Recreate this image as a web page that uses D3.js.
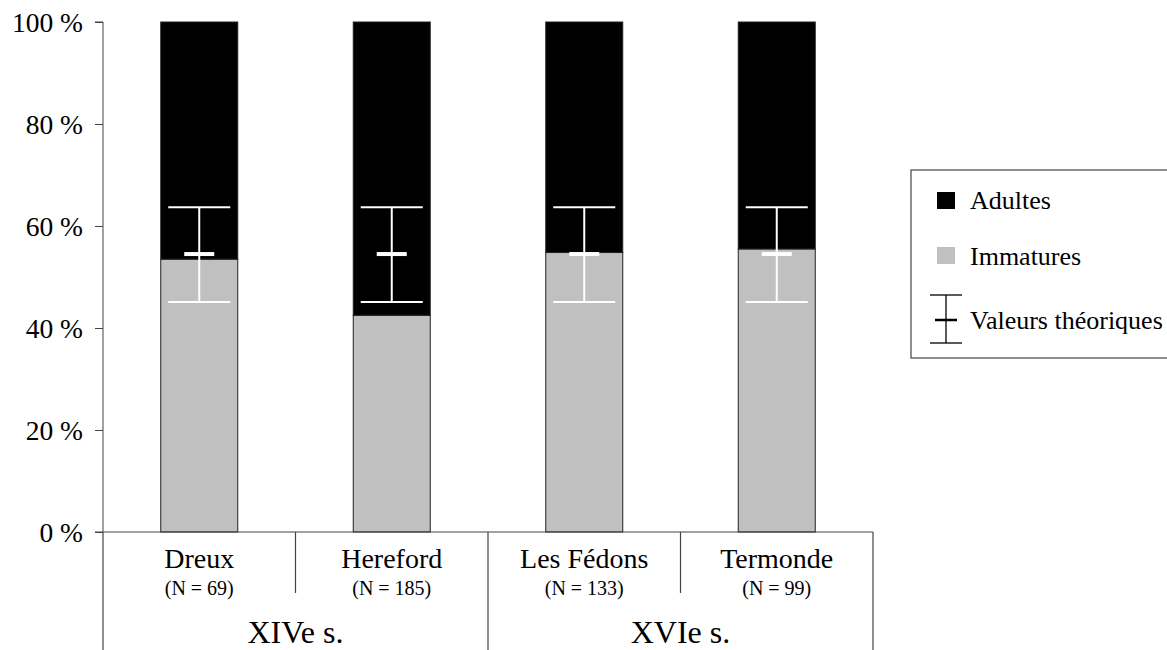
<!DOCTYPE html>
<html><head><meta charset="utf-8">
<script src="https://cdn.jsdelivr.net/npm/d3@7"></script>
<style>body{margin:0;background:#fff}svg{display:block}text{font-family:"Liberation Serif","Times New Roman",serif}</style>
</head><body><svg id="c" width="1167" height="650"></svg>
<script>
const sites = ["Dreux", "Hereford", "Les Fédons", "Termonde"];
const counts = ["(N = 69)", "(N = 185)", "(N = 133)", "(N = 99)"];
const periods = ["XIVe s.", "XIVe s.", "XVIe s.", "XVIe s."];
const periodNames = ["XIVe s.", "XVIe s."];
const immatures = [53.5, 42.5, 54.8, 55.5];
const theoLow = [45.1, 45.1, 45.1, 45.1];
const theoMid = [54.5, 54.5, 54.5, 54.5];
const theoHigh = [63.7, 63.7, 63.7, 63.7];
const yTicks = [0, 20, 40, 60, 80, 100];
const legendLabels = ["Adultes", "Immatures", "Valeurs théoriques"];

const FONT = "Liberation Serif";
const svg = d3.select("#c");
const x0 = 103, x1 = 873, yTop = 22, yBot = 532;
const x = d3.scaleBand().domain(sites).range([x0, x1]).paddingInner(0).paddingOuter(0);
const y = d3.scaleLinear().domain([0, 100]).range([yBot, yTop]);
const bw = x.bandwidth() * 0.4;

// bars
const g = svg.append("g");
sites.forEach((s, i) => {
  const cx = x(s) + x.bandwidth() / 2;
  g.append("rect").attr("x", cx - bw / 2).attr("y", y(immatures[i])).attr("width", bw)
    .attr("height", y(0) - y(immatures[i])).attr("fill", "#c0c0c0").attr("stroke", "#222").attr("stroke-width", 1);
  g.append("rect").attr("x", cx - bw / 2).attr("y", y(100)).attr("width", bw)
    .attr("height", y(immatures[i]) - y(100)).attr("fill", "#000").attr("stroke", "#222").attr("stroke-width", 1);
  const eb = g.append("g").attr("stroke", "#fff");
  eb.append("line").attr("x1", cx).attr("x2", cx).attr("y1", y(theoHigh[i])).attr("y2", y(theoLow[i])).attr("stroke-width", 2);
  eb.append("line").attr("x1", cx - 31).attr("x2", cx + 31).attr("y1", y(theoHigh[i])).attr("y2", y(theoHigh[i])).attr("stroke-width", 2);
  eb.append("line").attr("x1", cx - 31).attr("x2", cx + 31).attr("y1", y(theoLow[i])).attr("y2", y(theoLow[i])).attr("stroke-width", 2);
  eb.append("line").attr("x1", cx - 15).attr("x2", cx + 15).attr("y1", y(theoMid[i])).attr("y2", y(theoMid[i])).attr("stroke-width", 4);
});

// y axis
const yAxis = d3.axisLeft(y).tickValues(yTicks).tickFormat(d => d + " %").tickSize(8).tickPadding(12);
const ya = svg.append("g").attr("transform", `translate(${x0},0)`).call(yAxis);
ya.attr("font-family", FONT);
ya.select(".domain").attr("stroke", "#444").attr("d", `M-8,${yTop}H0V${yBot}`);
ya.selectAll(".tick line").attr("stroke", "#444");
ya.selectAll("text").attr("font-size", 27.5).attr("fill", "#000").attr("font-family", FONT).attr("dy", "0.33em");

// category axis
const ca = svg.append("g").attr("stroke", "#444").attr("stroke-width", 1.2);
ca.append("line").attr("x1", x0 - 8).attr("x2", x1).attr("y1", yBot).attr("y2", yBot);
ca.append("line").attr("x1", x0).attr("x2", x0).attr("y1", yBot).attr("y2", 650);
ca.append("line").attr("x1", x1).attr("x2", x1).attr("y1", yBot).attr("y2", 650);
sites.forEach((s, i) => {
  if (i === 0) return;
  const long = periods[i] !== periods[i - 1];
  ca.append("line").attr("x1", x(s)).attr("x2", x(s)).attr("y1", yBot).attr("y2", long ? 650 : 593);
});
sites.forEach((s, i) => {
  const cx = x(s) + x.bandwidth() / 2;
  svg.append("text").attr("x", cx).attr("y", 568).attr("text-anchor", "middle").attr("font-family", FONT).attr("font-size", 28).text(s);
  svg.append("text").attr("x", cx).attr("y", 595).attr("text-anchor", "middle").attr("font-family", FONT).attr("font-size", 20).text(counts[i]);
});
periodNames.forEach(p => {
  const members = sites.filter((s, i) => periods[i] === p);
  const a = x(members[0]), b = x(members[members.length - 1]) + x.bandwidth();
  svg.append("text").attr("x", (a + b) / 2).attr("y", 643).attr("text-anchor", "middle").attr("font-family", FONT).attr("font-size", 32).text(p);
});

// legend
const lg = svg.append("g");
lg.append("rect").attr("x", 911).attr("y", 170).attr("width", 270).attr("height", 188).attr("fill", "#fff").attr("stroke", "#444").attr("stroke-width", 1.2);
lg.append("rect").attr("x", 937).attr("y", 192).attr("width", 18).attr("height", 17).attr("fill", "#000");
lg.append("rect").attr("x", 937).attr("y", 247).attr("width", 18).attr("height", 17).attr("fill", "#c0c0c0");
const le = lg.append("g").attr("stroke", "#000").attr("stroke-width", 1.3);
le.append("line").attr("x1", 946).attr("x2", 946).attr("y1", 295).attr("y2", 343);
le.append("line").attr("x1", 930).attr("x2", 962).attr("y1", 295).attr("y2", 295);
le.append("line").attr("x1", 930).attr("x2", 962).attr("y1", 343).attr("y2", 343);
le.append("line").attr("x1", 935).attr("x2", 957).attr("y1", 320).attr("y2", 320).attr("stroke-width", 2.5);
[[209, 0], [265, 1], [329, 2]].forEach(([yy, i]) => {
  lg.append("text").attr("x", 970).attr("y", yy).attr("font-family", FONT).attr("font-size", 26).text(legendLabels[i]);
});
</script></body></html>
